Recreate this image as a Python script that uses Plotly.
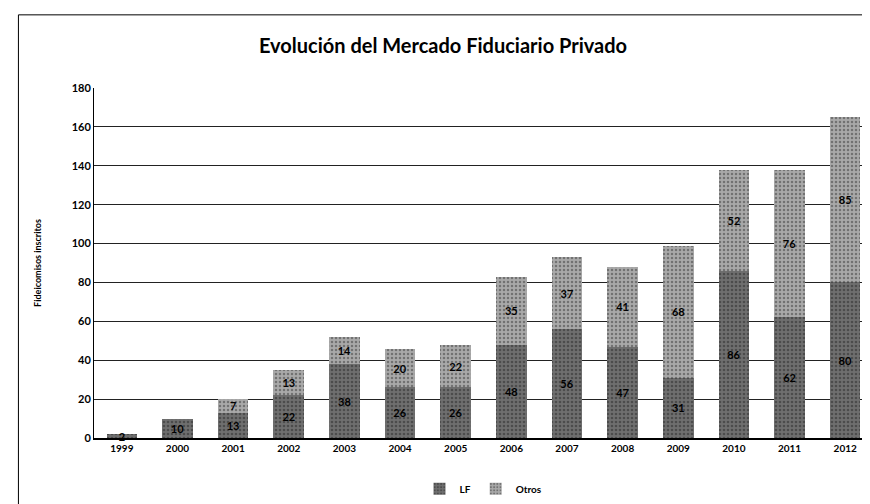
import plotly.graph_objects as go

years = ["1999", "2000", "2001", "2002", "2003", "2004", "2005",
         "2006", "2007", "2008", "2009", "2010", "2011", "2012"]
lf = [2, 10, 13, 22, 38, 26, 26, 48, 56, 47, 31, 86, 62, 80]
otros = [0, 0, 7, 13, 14, 20, 22, 35, 37, 41, 68, 52, 76, 85]
y_ticks = [0, 20, 40, 60, 80, 100, 120, 140, 160, 180]

def labels(vals):
    return [str(v) if v > 0 else "" for v in vals]

lab_font = dict(family="Lato", size=11, color="black", weight="bold")

fig = go.Figure()
fig.add_trace(go.Bar(
    x=years, y=lf, name="LF",
    marker=dict(color="#6f6f6f", line=dict(width=0),
                pattern=dict(shape=".", fgcolor="#2a2a2a", size=4, solidity=0.35)),
    text=labels(lf), textposition="inside", insidetextanchor="middle",
    textangle=0, constraintext="none", cliponaxis=False,
    textfont=lab_font,
))
fig.add_trace(go.Bar(
    x=years, y=otros, name="Otros",
    marker=dict(color="#a9a9a9", line=dict(width=0),
                pattern=dict(shape=".", fgcolor="#3a3a3a", size=4, solidity=0.3)),
    text=labels(otros), textposition="inside", insidetextanchor="middle",
    textangle=0, constraintext="none", cliponaxis=False,
    textfont=lab_font,
))

fig.update_layout(
    barmode="stack",
    bargap=0.45,
    width=870, height=504,
    margin=dict(l=86, r=5, t=80, b=74),
    paper_bgcolor="white", plot_bgcolor="white",
    font=dict(family="Lato", color="black", size=11),
    title=dict(text="<b>Evolución del Mercado Fiduciario Privado</b>",
               x=0.5, xanchor="center", y=0.925, yanchor="middle",
               font=dict(family="Lato", size=20, color="black")),
    uniformtext=dict(minsize=8, mode="show"),
    legend=dict(orientation="h", x=0.5, xanchor="center", y=-0.145, yanchor="middle",
                font=dict(size=10, weight="bold"), itemwidth=30, traceorder="normal"),
    xaxis=dict(showgrid=False, showline=True, linecolor="black", linewidth=1.5,
               tickfont=dict(size=10, family="Lato", weight="bold"), ticks=""),
    yaxis=dict(range=[0, 180], tickvals=y_ticks, showgrid=True,
               gridcolor="#222222", gridwidth=1, showline=True,
               linecolor="black", linewidth=1, ticks="",
               tickfont=dict(size=11, family="Lato", weight="bold"),
               title=dict(text="<b>Fideicomisos inscritos</b>",
                          font=dict(size=9, family="Lato"), standoff=28)),
    shapes=[dict(type="rect", xref="paper", yref="paper",
                 x0=-0.097, x1=1.002, y0=-0.2, y1=1.209,
                 line=dict(color="black", width=1))],
)

fig.write_html("out.html")
